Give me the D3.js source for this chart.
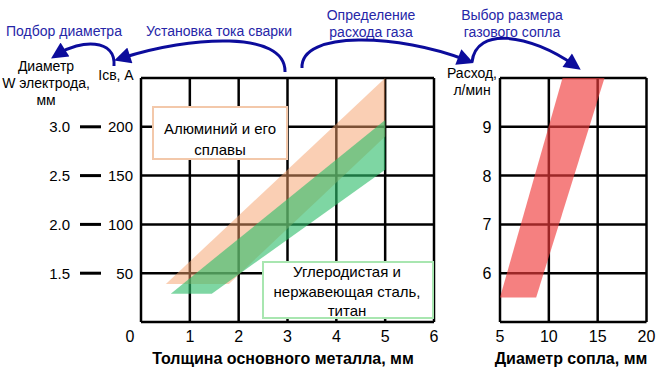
<!DOCTYPE html>
<html>
<head>
<meta charset="utf-8">
<script src="https://cdn.jsdelivr.net/npm/d3@7"></script>
<style>
  body { margin: 0; background: #fff; }
  svg { display: block; font-family: "Liberation Sans", Arial, sans-serif; }
</style>
</head>
<body>
<div class="container"></div>
<script>
// chart values
const thicknessTicks = [0, 1, 2, 3, 4, 5, 6];
const currentTicks = [50, 100, 150, 200];
const electrodeTicks = ["1.5", "2.0", "2.5", "3.0"];
const flowTicks = [6, 7, 8, 9];
const nozzleTicks = [5, 10, 15, 20];
// bands: [thickness, current] and [nozzle, flow]
const aluminiumBand = [[0.51, 39], [5, 250], [5, 190], [1.8, 39]];
const steelBand = [[0.61, 29], [5, 207], [5, 156], [1.45, 29]];
const nozzleBand = [[5, 5.5], [8.7, 5.5], [15.7, 10], [11.4, 10]];

const width = 670, height = 375;
const blue = "#2626a8";

const svg = d3.select("div.container").append("svg")
  .attr("width", width).attr("height", height);

// arrow head
svg.append("defs").append("marker")
  .attr("id", "head").attr("viewBox", "0 0 10 10")
  .attr("refX", 5).attr("refY", 5)
  .attr("markerWidth", 6).attr("markerHeight", 5.5)
  .attr("orient", "auto")
  .append("path").attr("d", "M0,0 L10,5 L0,10 Z").attr("fill", "#0c0c9c");

// scales
const xL = d3.scaleLinear().domain([0, 6]).range([141, 434]);
const yL = d3.scaleLinear().domain([0, 250]).range([322, 78]);
const xR = d3.scaleLinear().domain([5, 20]).range([500, 646.5]);
const yR = d3.scaleLinear().domain([5, 10]).range([322, 78]);

// grid for the left chart
const gl = svg.append("g").attr("stroke", "#000").attr("stroke-width", 2.5);
gl.selectAll("line.v").data(thicknessTicks).enter().append("line")
  .attr("x1", d => xL(d)).attr("x2", d => xL(d)).attr("y1", yL(0)).attr("y2", yL(250));
gl.selectAll("line.h").data([0, ...currentTicks, 250]).enter().append("line")
  .attr("x1", xL(0)).attr("x2", xL(6)).attr("y1", d => yL(d)).attr("y2", d => yL(d));

// grid for the right chart
const gr = svg.append("g").attr("stroke", "#000").attr("stroke-width", 2.5);
gr.selectAll("line.v").data(nozzleTicks).enter().append("line")
  .attr("x1", d => xR(d)).attr("x2", d => xR(d)).attr("y1", yR(5)).attr("y2", yR(10));
gr.selectAll("line.h").data([5, ...flowTicks, 10]).enter().append("line")
  .attr("x1", xR(5)).attr("x2", xR(20)).attr("y1", d => yR(d)).attr("y2", d => yR(d));

// bands
const lineL = d3.line().x(d => xL(d[0])).y(d => yL(d[1]));
const lineR = d3.line().x(d => xR(d[0])).y(d => yR(d[1]));
svg.append("path").attr("d", lineL(aluminiumBand) + "Z")
  .attr("fill", "#f5a06a").attr("fill-opacity", 0.5);
svg.append("path").attr("d", lineL(steelBand) + "Z")
  .attr("fill", "#2ebd6b").attr("fill-opacity", 0.62);
svg.append("path").attr("d", lineR(nozzleBand) + "Z")
  .attr("fill", "#f03c3c").attr("fill-opacity", 0.65);

// label boxes
function box(x, y, w, h, stroke, lines, cx, y0, dy) {
  svg.append("rect").attr("x", x).attr("y", y).attr("width", w).attr("height", h)
    .attr("fill", "#fff").attr("stroke", stroke).attr("stroke-width", 2);
  svg.append("g").selectAll("text").data(lines).enter().append("text")
    .attr("x", cx).attr("y", (d, i) => y0 + i * dy)
    .attr("text-anchor", "middle").attr("font-size", 15).text(d => d);
}
box(153, 107, 134, 52, "#f3c8aa", ["Алюминий и его", "сплавы"], 220, 134, 21);
box(263, 262, 170, 56, "#a8e6b0", ["Углеродистая и", "нержавеющая сталь,", "титан"], 347, 277, 19.5);

// left y tick dashes and labels
const ticks = svg.append("g");
ticks.selectAll("line").data(currentTicks).enter().append("line")
  .attr("x1", 80).attr("x2", 101).attr("y1", d => yL(d)).attr("y2", d => yL(d))
  .attr("stroke", "#000").attr("stroke-width", 3);
ticks.selectAll("text.cur").data(currentTicks).enter().append("text")
  .attr("x", 133).attr("y", d => yL(d) + 5.5).attr("text-anchor", "end")
  .attr("font-size", 15).text(d => d);
ticks.selectAll("text.el").data(electrodeTicks).enter().append("text")
  .attr("x", 70).attr("y", (d, i) => yL(currentTicks[i]) + 5.5).attr("text-anchor", "end")
  .attr("font-size", 15).text(d => d);

// x tick labels
svg.append("g").selectAll("text").data(thicknessTicks).enter().append("text")
  .attr("x", d => d === 0 ? xL(d) - 11 : xL(d)).attr("y", 342)
  .attr("text-anchor", "middle").attr("font-size", 16).text(d => d);
svg.append("g").selectAll("text").data(nozzleTicks).enter().append("text")
  .attr("x", d => xR(d)).attr("y", 342)
  .attr("text-anchor", "middle").attr("font-size", 16).text(d => d);
svg.append("g").selectAll("text").data(flowTicks).enter().append("text")
  .attr("x", 487).attr("y", d => yR(d) + 6)
  .attr("text-anchor", "middle").attr("font-size", 16).text(d => d);

// axis titles
function lines(arr, x, y0, dy, size, anchor, color, weight) {
  svg.append("g").selectAll("text").data(arr).enter().append("text")
    .attr("x", x).attr("y", (d, i) => y0 + i * dy)
    .attr("text-anchor", anchor || "middle").attr("font-size", size)
    .attr("fill", color || "#000").attr("font-weight", weight || "normal").text(d => d);
}
lines(["Диаметр", "W электрода,", "мм"], 46, 71, 17, 14);
lines(["Iсв, А"], 116, 80, 0, 14);
lines(["Расход,", "л/мин"], 472, 78, 16.5, 14);
lines(["Толщина основного металла, мм"], 283, 364, 0, 16, "middle", "#000", "bold");
lines(["Диаметр сопла, мм"], 571, 364, 0, 16, "middle", "#000", "bold");

// top annotations
lines(["Подбор диаметра"], 64, 36, 0, 14, "middle", blue);
lines(["Установка тока сварки"], 219, 36, 0, 14, "middle", blue);
lines(["Определение", "расхода газа"], 371, 20, 17, 14, "middle", blue);
lines(["Выбор размера", "газового сопла"], 512, 20, 17, 14, "middle", blue);

const arrows = [
  "M114,66 C116,38 80,40 58,54",
  "M285,72 C286,30 190,36 122,58",
  "M302,68 C300,30 400,34 466,60",
  "M472,62 C476,26 530,34 574,65"
];
svg.append("g").selectAll("path").data(arrows).enter().append("path")
  .attr("d", d => d).attr("fill", "none").attr("stroke", "#0c0c9c")
  .attr("stroke-width", 3).attr("marker-end", "url(#head)");
</script>
</body>
</html>
